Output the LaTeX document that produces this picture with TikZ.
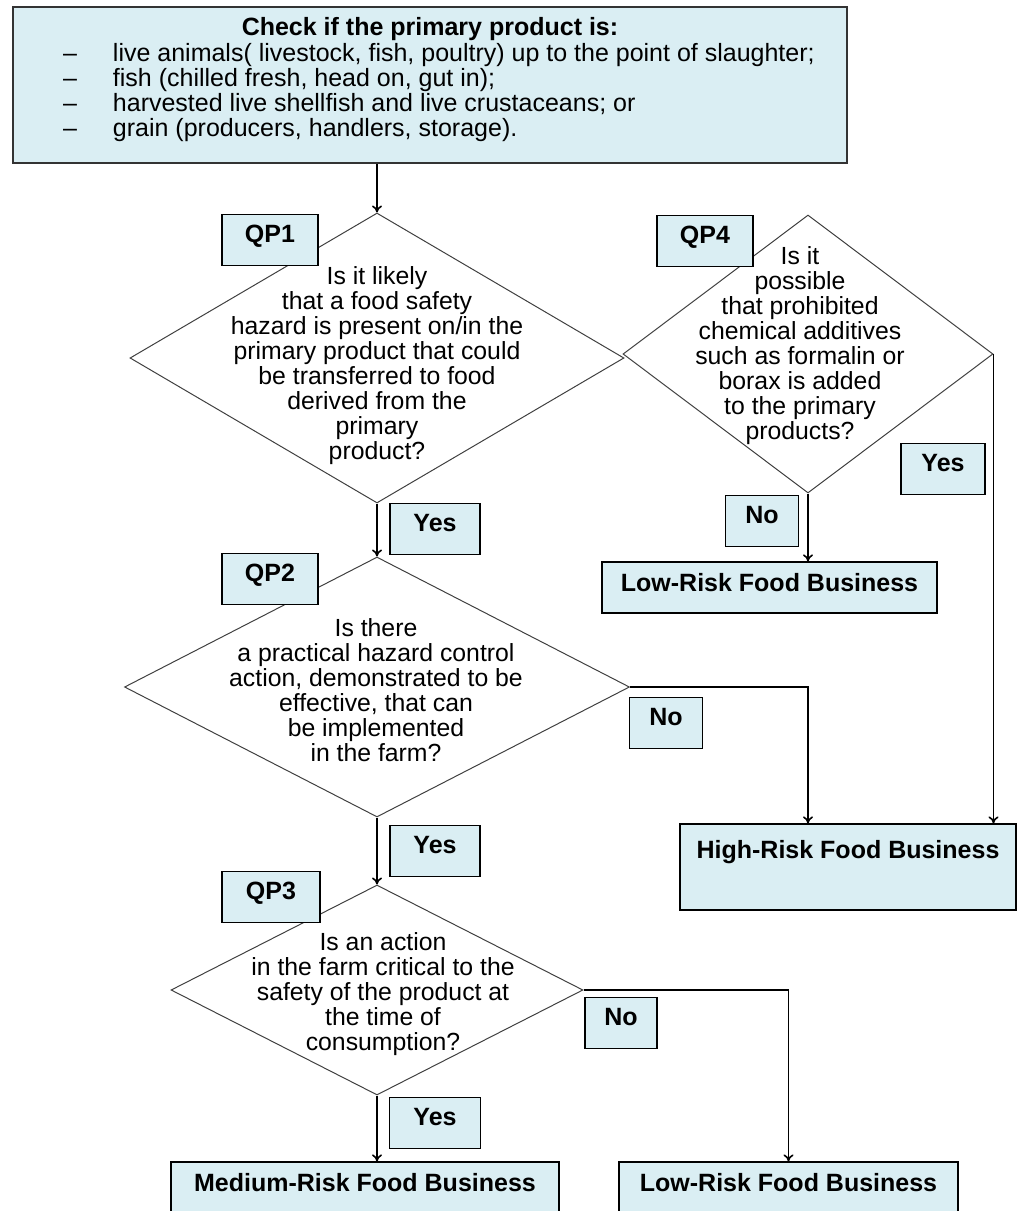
\documentclass[tikz,border=0pt]{standalone}
\usepackage{fontspec}
\setmainfont{Liberation Sans}
\usepackage{tikz}
\usetikzlibrary{shapes.geometric,arrows.meta}
\definecolor{boxblue}{HTML}{DAEEF3}

\begin{document}
\begin{tikzpicture}[x=1pt, y=-1pt, >={To[length=7pt,width=10pt]},
    question/.style={diamond, draw=black!75, line width=1pt, inner sep=0pt},
    qtext/.style={align=center, font=\fontsize{24.8}{25}\selectfont},
    tag/.style={draw, line width=1.2pt, fill=boxblue, inner sep=0pt, text height=28pt, text depth=23pt, font=\fontsize{25}{25}\selectfont\bfseries},
    result/.style={draw, line width=1.2pt, fill=boxblue, inner sep=0pt, text height=29pt, font=\fontsize{25}{25}\selectfont\bfseries},
    flow/.style={line width=1.6pt, ->}]
    \useasboundingbox (0,0) rectangle (1020,1211);

    \node[draw=black!80, line width=1.5pt, fill=boxblue, inner sep=0pt] (check) at (430,85) {\parbox[c][156pt][t]{834pt}{\fontsize{25}{25}\selectfont
        \vspace*{10pt}
        {\centering\bfseries\fontsize{25}{25}\selectfont Check if the primary product is:\par}
        \vspace{1pt}
        \hspace*{50pt}\makebox[50pt][l]{--}live animals( livestock, fish, poultry) up to the point of slaughter;\par
        \hspace*{50pt}\makebox[50pt][l]{--}fish (chilled fresh, head on, gut in);\par
        \hspace*{50pt}\makebox[50pt][l]{--}harvested live shellfish and live crustaceans; or\par
        \hspace*{50pt}\makebox[50pt][l]{--}grain (producers, handlers, storage).\par}};

    \node[question, minimum width=494pt, minimum height=290pt] (qp1) at (377,358) {};
    \node[question, minimum width=370pt, minimum height=278pt] (qp4) at (808,354) {};
    \node[question, minimum width=505pt, minimum height=260pt] (qp2) at (377,687) {};
    \node[question, minimum width=412pt, minimum height=210pt] (qp3) at (377,990) {};

    \node[qtext] (qp1q) at (377,366) {Is it likely\\that a food safety\\hazard is present on/in the\\primary product that could\\be transferred to food\\derived from the\\primary\\product?};
    \node[qtext] (qp4q) at (800,346) {Is it\\possible\\that prohibited\\chemical additives\\such as formalin or\\borax is added\\to the primary\\products?};
    \node[qtext] (qp2q) at (376,690) {Is there\\a practical hazard control\\action, demonstrated to be\\effective, that can\\be implemented\\in the farm?};
    \node[qtext] (qp3q) at (383,994) {Is an action\\in the farm critical to the\\safety of the product at\\the time of\\consumption?};

    \node[tag, minimum width=96pt] (qp1tag) at (270,240) {QP1};
    \node[tag, minimum width=96pt] (qp4tag) at (705,241) {QP4};
    \node[tag, minimum width=96pt] (qp2tag) at (270,579) {QP2};
    \node[tag, minimum width=98pt] (qp3tag) at (271,897) {QP3};

    \node[tag, minimum width=90pt] (yes1) at (435,529) {Yes};
    \node[tag, minimum width=90pt] (yes2) at (435,851) {Yes};
    \node[tag, minimum width=91pt] (yes3) at (435,1123) {Yes};
    \node[tag, minimum width=84pt] (yes4) at (943,469) {Yes};
    \node[tag, minimum width=73pt] (no4) at (762,521) {No};
    \node[tag, minimum width=73pt] (no2) at (666,723) {No};
    \node[tag, minimum width=72pt] (no3) at (621,1023) {No};

    \node[result, minimum width=335pt, text depth=22pt] (lowtop) at (769.5,587.5) {Low-Risk Food Business};
    \node[result, minimum width=336pt, text height=34pt, text depth=52pt] (high) at (848,867) {High-Risk Food Business};
    \node[result, minimum width=388pt, text depth=49pt] (medium) at (365,1201) {Medium-Risk Food Business};
    \node[result, minimum width=339pt, text depth=49pt] (lowbot) at (788.5,1201) {Low-Risk Food Business};

    \draw[flow] (check.south -| qp1.north) -- (qp1.north);
    \draw[flow] (qp1.south) -- (qp2.north);
    \draw[flow] (qp2.south) -- (qp3.north);
    \draw[flow] (qp3.south) -- (qp3.south |- medium.north);
    \draw[flow] (qp4.south) -- (qp4.south |- lowtop.north);
    \draw[flow] (qp4.east) -- (qp4.east |- high.north);
    \draw[flow] (qp2.east) -| ([xshift=-40pt]high.north);
    \draw[flow] (qp3.east) -| (lowbot.north);

\end{tikzpicture}
\end{document}
